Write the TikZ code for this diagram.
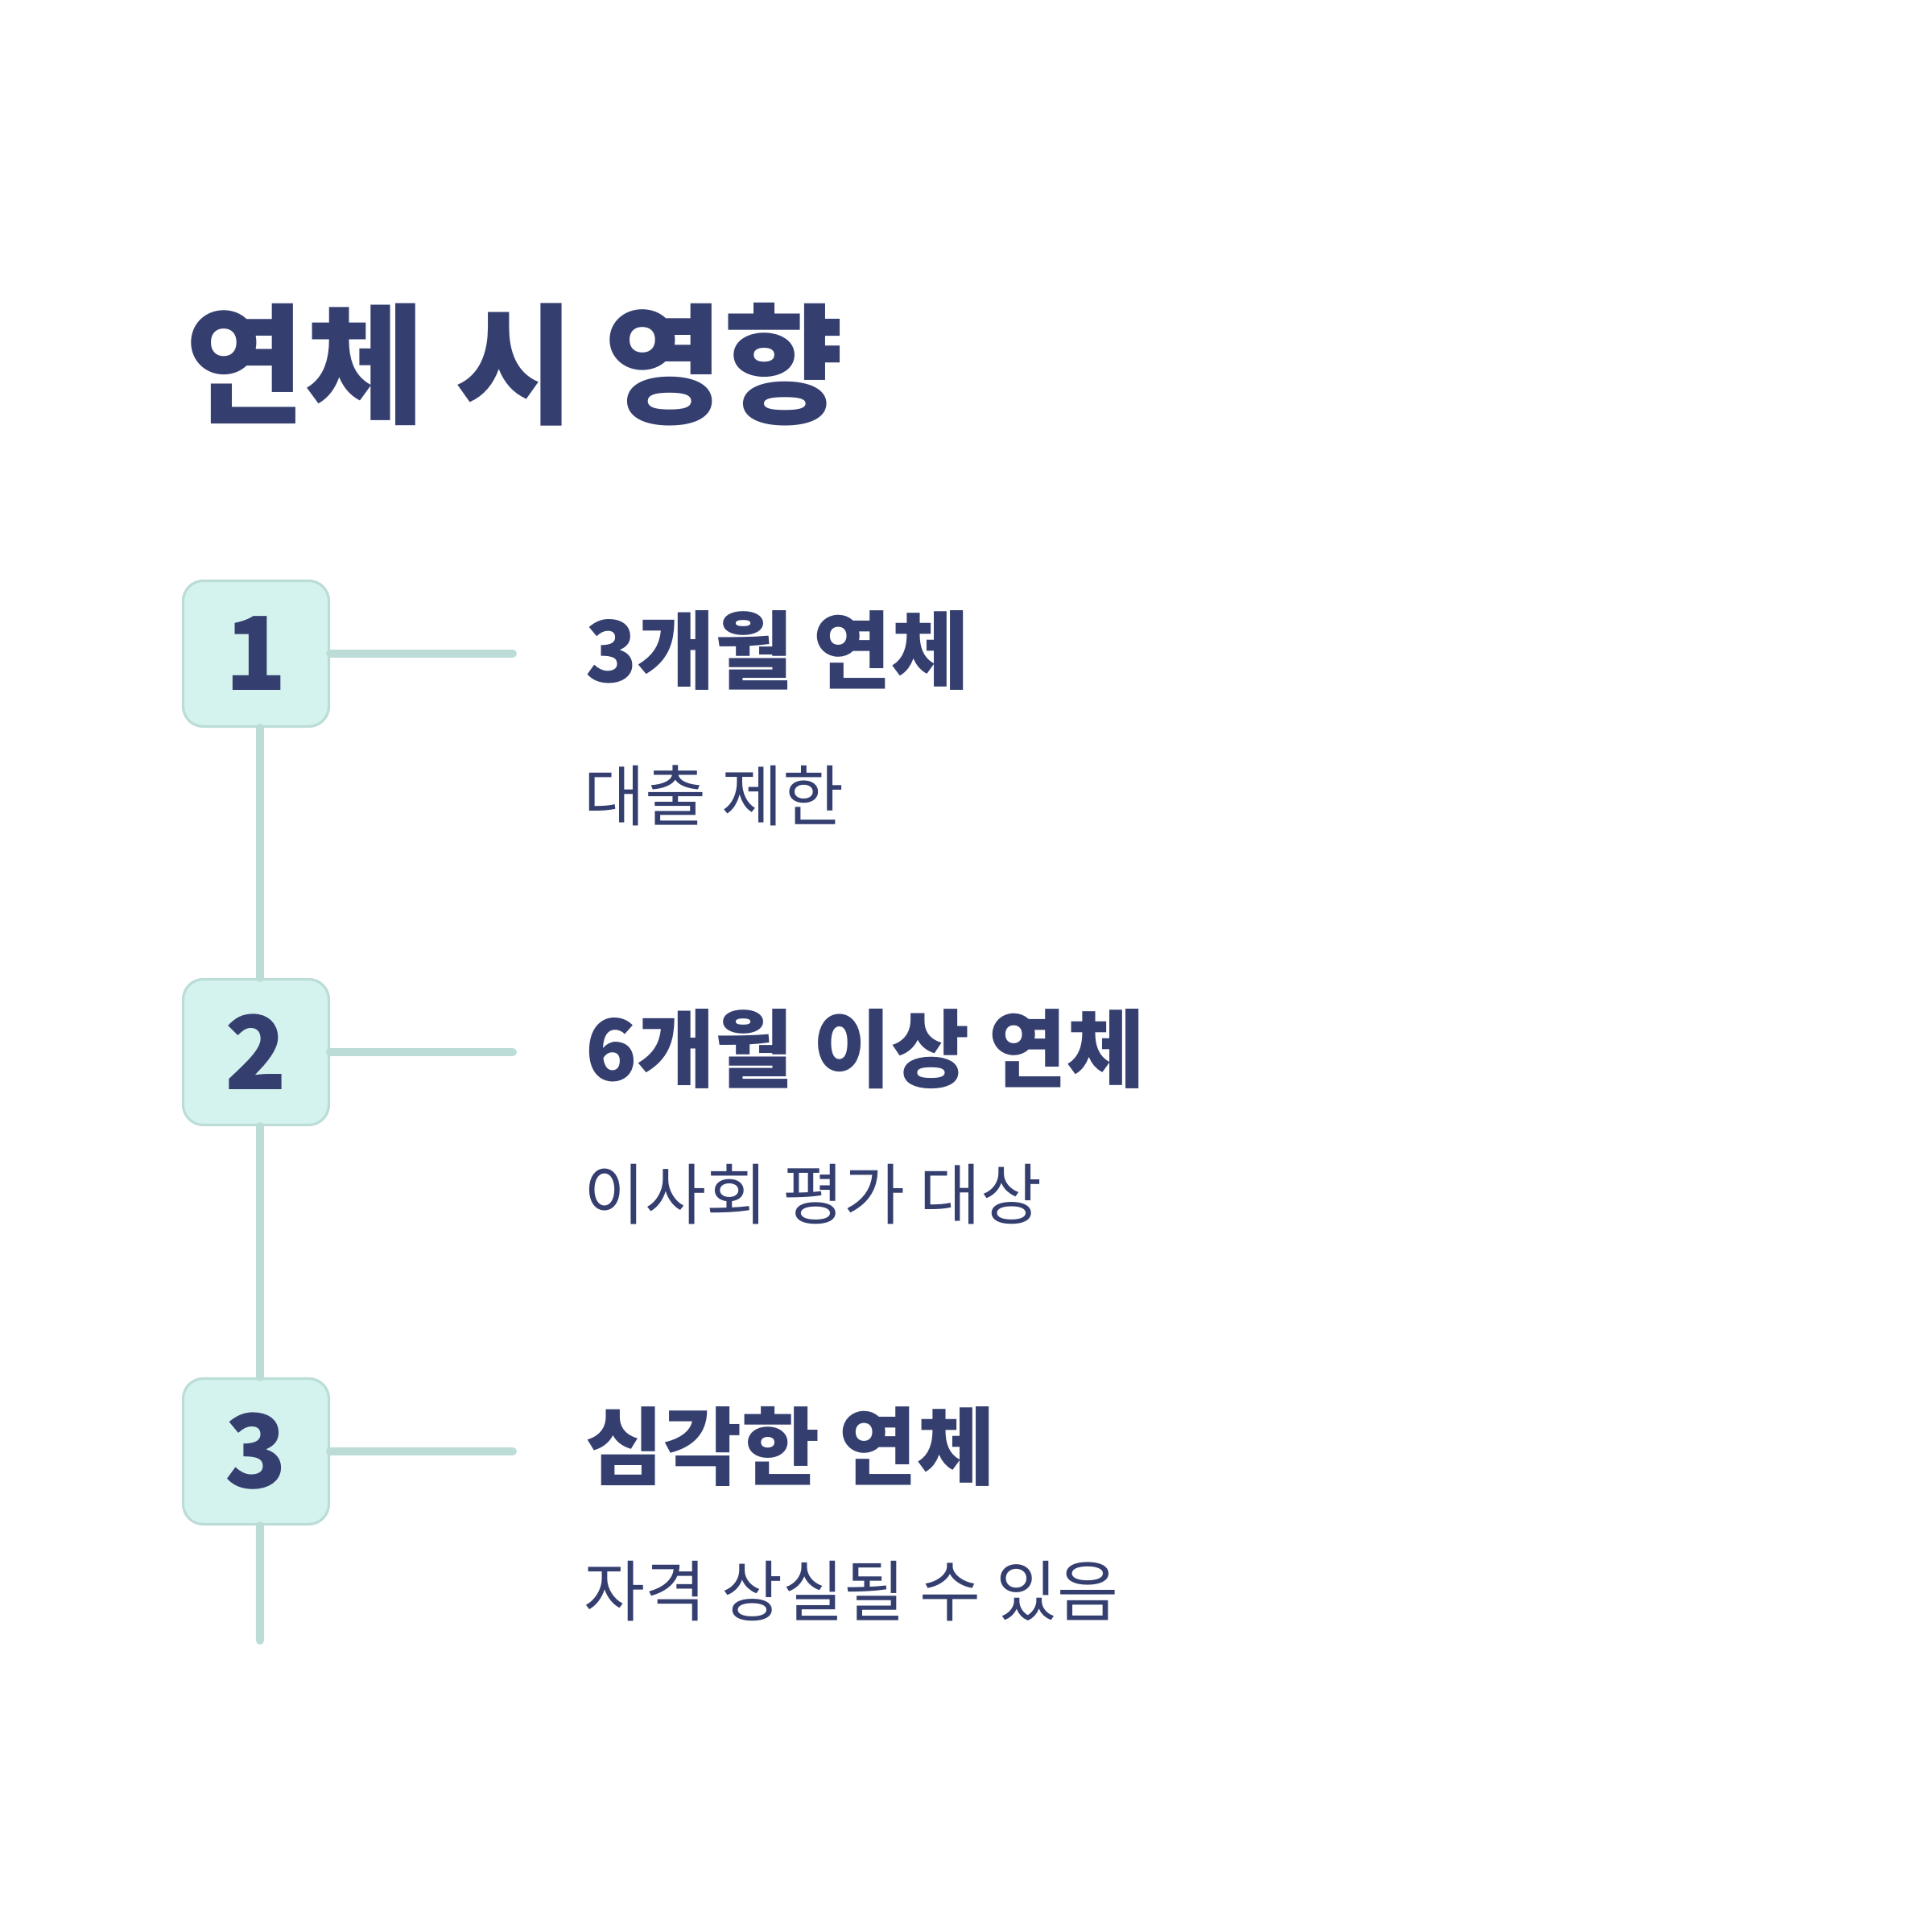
\documentclass[tikz,border=0pt]{standalone}
\usepackage{fontspec}
\setmainfont{Noto Sans CJK KR}
\usetikzlibrary{positioning}
\definecolor{ink}{HTML}{343F70}
\definecolor{mint}{HTML}{D5F3EE}
\definecolor{mintline}{HTML}{BCDDD7}

\begin{document}
\begin{tikzpicture}[
    every node/.style={text=ink, inner sep=0pt},
    numbox/.style={rectangle, rounded corners=0.25cm, draw=mintline, line width=0.9pt,
                   fill=mint, minimum width=1.81cm, minimum height=1.81cm,
                   font=\fontsize{36}{40}\selectfont\bfseries},
    link/.style={mintline, line width=2.85pt, line cap=round},
    head/.style={anchor=west, font=\fontsize{30}{34}\selectfont\bfseries},
    sub/.style={anchor=west, font=\fontsize{23.5}{28}\selectfont}
]
    \useasboundingbox (0,0) rectangle (24,24);
    \node[anchor=west, font=\fontsize{46}{54}\selectfont\bfseries] (title) at (2.30,19.47) {연체 시 영향};

    \node[numbox] (b1) at (3.18,15.88) {1};
    \node[numbox] (b2) at (3.18,10.93) {2};
    \node[numbox] (b3) at (3.18,5.97)  {3};

    \coordinate (e1) at (6.37,15.88);
    \coordinate (e2) at (6.37,10.93);
    \coordinate (e3) at (6.37,5.97);
    \coordinate (tail) at (3.23,3.62);

    \draw[link] ([xshift=0.05cm]b1.south) -- ([xshift=0.05cm]b2.north);
    \draw[link] ([xshift=0.05cm]b2.south) -- ([xshift=0.05cm]b3.north);
    \draw[link] ([xshift=0.05cm]b3.south) -- (tail);

    \draw[link] (b1.east) -- (e1);
    \draw[link] (b2.east) -- (e2);
    \draw[link] (b3.east) -- (e3);

    \node[head] (h1) at (7.27,15.92) {3개월 연체};
    \node[sub]  (s1) at (7.25,14.12) {대출 제한};
    \node[head] (h2) at (7.27,10.97) {6개월 이상 연체};
    \node[sub]  (s2) at (7.25,9.16)  {이사회 평가 대상};
    \node[head] (h3) at (7.27,6.03)  {심각한 연체};
    \node[sub]  (s3) at (7.25,4.23)  {자격 상실될 수 있음};
\end{tikzpicture}
\end{document}
